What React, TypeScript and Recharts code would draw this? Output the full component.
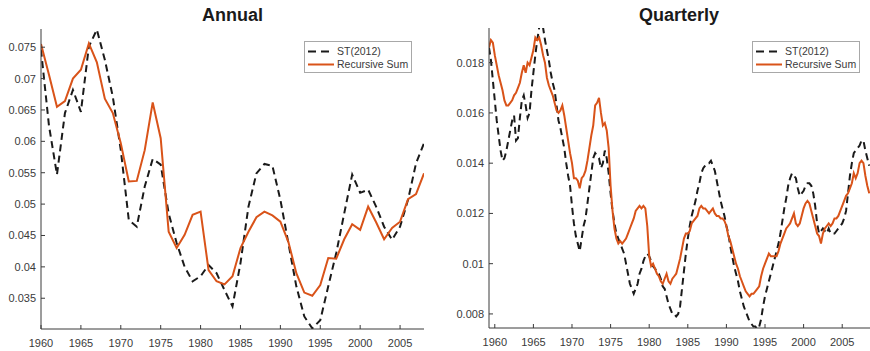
import { LineChart, Line, XAxis, YAxis } from "recharts";

const FONT = '"Liberation Sans", Arial, Helvetica, sans-serif';
const ST_COLOR = "#1a1a1a";
const RS_COLOR = "#d95319";
const AXIS_COLOR = "#3a3a3a";
const TEXT_COLOR = "#3a3a3a";

// ---- annual (1960..2008) ----
const ANNUAL_START = 1960;
const ANNUAL_ST = [
  0.0746, 0.0625, 0.0547, 0.0645, 0.0682, 0.0647, 0.0751, 0.0778, 0.0730, 0.0671,
  0.0586, 0.0475, 0.0464, 0.0528, 0.0572, 0.0563, 0.0485, 0.0438, 0.0400, 0.0377,
  0.0385, 0.0403, 0.0390, 0.0363, 0.0337, 0.0406, 0.0496, 0.0549, 0.0564, 0.0561,
  0.0507, 0.0438, 0.0369, 0.0321, 0.0302, 0.0315, 0.0369, 0.0422, 0.0485, 0.0547,
  0.0518, 0.0523, 0.0496, 0.0464, 0.0443, 0.0464, 0.0507, 0.0565, 0.0597,
];
const ANNUAL_RS = [
  0.0755, 0.0706, 0.0655, 0.0664, 0.0700, 0.0714, 0.0756, 0.0726, 0.0668, 0.0645,
  0.0597, 0.0536, 0.0537, 0.0586, 0.0662, 0.0605, 0.0456, 0.0430, 0.0451, 0.0483,
  0.0488, 0.0395, 0.0377, 0.0372, 0.0385, 0.0430, 0.0456, 0.0479, 0.0488, 0.0482,
  0.0472, 0.0440, 0.0390, 0.0359, 0.0354, 0.0371, 0.0414, 0.0413, 0.0444, 0.0468,
  0.0459, 0.0496, 0.0471, 0.0444, 0.0462, 0.0472, 0.0508, 0.0516, 0.0549,
];
const YEAR_TICKS = [1960, 1965, 1970, 1975, 1980, 1985, 1990, 1995, 2000, 2005];
const ANNUAL_Y_TICKS = [0.035, 0.04, 0.045, 0.05, 0.055, 0.06, 0.065, 0.07, 0.075];

// ---- quarterly (1959Q2..2008Q3), one row per year ----
const QUARTER_START = 1959.25;
const QUARTERLY_ST = [
  0.0186, 0.0181, 0.0173,
  0.0165, 0.0157, 0.0151, 0.0145,
  0.0141, 0.0142, 0.0145, 0.0149,
  0.0153, 0.0157, 0.0159, 0.0149,
  0.0150, 0.0158, 0.0165, 0.0167,
  0.0163, 0.0158, 0.0160, 0.0169,
  0.0176, 0.0183, 0.0189, 0.0194,
  0.0196, 0.0194, 0.0189, 0.0185,
  0.0181, 0.0176, 0.0172, 0.0169,
  0.0163, 0.0157, 0.0154, 0.0150,
  0.0146, 0.0140, 0.0135, 0.0131,
  0.0123, 0.0116, 0.0111, 0.0108,
  0.0105, 0.0110, 0.0115, 0.0118,
  0.0124, 0.0130, 0.0136, 0.0142,
  0.0144, 0.0143, 0.0142, 0.0138,
  0.0140, 0.0145, 0.0142, 0.0136,
  0.0128, 0.0121, 0.0116, 0.0112,
  0.0110, 0.0108, 0.0106, 0.0104,
  0.0100, 0.0096, 0.0092, 0.0090,
  0.0088, 0.0090, 0.0092, 0.0096,
  0.0098, 0.0101, 0.0103, 0.0104,
  0.0103, 0.0101, 0.0099, 0.0098,
  0.0097, 0.0096, 0.0094, 0.0091,
  0.0090, 0.0087, 0.0084, 0.0082,
  0.0080, 0.0080, 0.0079, 0.0080,
  0.0083, 0.0090, 0.0097, 0.0104,
  0.0110, 0.0115, 0.0119, 0.0122,
  0.0125, 0.0129, 0.0132, 0.0136,
  0.0138, 0.0139, 0.0140, 0.0140,
  0.0141, 0.0139, 0.0137, 0.0133,
  0.0129, 0.0125, 0.0122, 0.0119,
  0.0115, 0.0112, 0.0107, 0.0103,
  0.0099, 0.0096, 0.0093, 0.0089,
  0.0086, 0.0083, 0.0081, 0.0079,
  0.0077, 0.0076, 0.0075, 0.0075,
  0.0074, 0.0075, 0.0078, 0.0083,
  0.0087, 0.0090, 0.0093, 0.0096,
  0.0099, 0.0102, 0.0105, 0.0108,
  0.0112, 0.0117, 0.0122, 0.0126,
  0.0131, 0.0134, 0.0136, 0.0135,
  0.0134, 0.0130, 0.0127, 0.0128,
  0.0129, 0.0131, 0.0132, 0.0132,
  0.0131, 0.0128, 0.0123, 0.0116,
  0.0112, 0.0113, 0.0114, 0.0113,
  0.0112, 0.0114, 0.0112, 0.0112,
  0.0112, 0.0113, 0.0114, 0.0115,
  0.0116, 0.0118, 0.0121, 0.0128,
  0.0135, 0.0140, 0.0144, 0.0145,
  0.0146, 0.0147, 0.0149, 0.0149,
  0.0145, 0.0142, 0.0139,
];
const QUARTERLY_RS = [
  0.0186, 0.0189, 0.0188,
  0.0183, 0.0179, 0.0175, 0.0172,
  0.0169, 0.0165, 0.0163, 0.0163,
  0.0164, 0.0165, 0.0167, 0.0168,
  0.0170, 0.0172, 0.0176, 0.0179,
  0.0176, 0.0180, 0.0179, 0.0182,
  0.0185, 0.0190, 0.0189, 0.0190,
  0.0187, 0.0183, 0.0180, 0.0174,
  0.0171, 0.0169, 0.0167, 0.0164,
  0.0161, 0.0160, 0.0161, 0.0163,
  0.0159, 0.0154, 0.0149, 0.0144,
  0.0140, 0.0134, 0.0134, 0.0133,
  0.0130, 0.0134, 0.0135, 0.0137,
  0.0141, 0.0146, 0.0151, 0.0155,
  0.0163, 0.0164, 0.0166, 0.0160,
  0.0155, 0.0156, 0.0153, 0.0146,
  0.0131, 0.0121, 0.0114, 0.0110,
  0.0108, 0.0109, 0.0108, 0.0109,
  0.0110, 0.0112, 0.0114, 0.0116,
  0.0118, 0.0121, 0.0122, 0.0123,
  0.0122, 0.0123, 0.0122, 0.0115,
  0.0103, 0.0099, 0.0100, 0.0098,
  0.0096, 0.0095, 0.0093, 0.0092,
  0.0094, 0.0096, 0.0093, 0.0092,
  0.0094, 0.0095, 0.0096, 0.0099,
  0.0102, 0.0106, 0.0110, 0.0112,
  0.0112, 0.0113, 0.0116, 0.0117,
  0.0118, 0.0119, 0.0122, 0.0123,
  0.0122, 0.0122, 0.0121, 0.0120,
  0.0121, 0.0122, 0.0120, 0.0119,
  0.0119, 0.0118, 0.0118, 0.0117,
  0.0115, 0.0111, 0.0109, 0.0106,
  0.0103, 0.0100, 0.0098, 0.0095,
  0.0093, 0.0091, 0.0089, 0.0088,
  0.0087, 0.0088, 0.0088, 0.0089,
  0.0090, 0.0091, 0.0095, 0.0098,
  0.0100, 0.0102, 0.0104, 0.0103,
  0.0103, 0.0103, 0.0103, 0.0105,
  0.0108, 0.0110, 0.0112, 0.0114,
  0.0115, 0.0116, 0.0118, 0.0120,
  0.0116, 0.0115, 0.0116, 0.0119,
  0.0122, 0.0124, 0.0125, 0.0124,
  0.0121, 0.0118, 0.0115, 0.0112,
  0.0111, 0.0108, 0.0112, 0.0114,
  0.0115, 0.0116, 0.0115, 0.0116,
  0.0118, 0.0118, 0.0119, 0.0121,
  0.0123, 0.0125, 0.0127, 0.0128,
  0.0130, 0.0132, 0.0136, 0.0134,
  0.0136, 0.0140, 0.0141, 0.0140,
  0.0135, 0.0131, 0.0128,
];
const QUARTERLY_Y_TICKS = [0.008, 0.01, 0.012, 0.014, 0.016, 0.018];

const annualData = ANNUAL_ST.map((v, i) => ({ t: ANNUAL_START + i, st: v, rs: ANNUAL_RS[i] }));
const quarterlyData = QUARTERLY_ST.map((v, i) => ({ t: QUARTER_START + i / 4, st: v, rs: QUARTERLY_RS[i] }));

const label = (v: number) => String(v);

const BottomTick = (p: any) => (
  <g>
    <line x1={p.x} x2={p.x} y1={p.y} y2={p.y - 4} stroke={AXIS_COLOR} />
    <text x={p.x} y={p.y + 18} textAnchor="middle" fontSize={11} fill={TEXT_COLOR} fontFamily={FONT}>
      {p.payload.value}
    </text>
  </g>
);
const TopTick = (p: any) => <line x1={p.x} x2={p.x} y1={p.y} y2={p.y + 4} stroke={AXIS_COLOR} />;
const LeftTick = (p: any) => (
  <g>
    <line x1={p.x} x2={p.x + 4} y1={p.y} y2={p.y} stroke={AXIS_COLOR} />
    <text x={p.x - 5} y={p.y + 4} textAnchor="end" fontSize={11} fill={TEXT_COLOR} fontFamily={FONT}>
      {label(p.payload.value)}
    </text>
  </g>
);
const RightTick = (p: any) => <line x1={p.x} x2={p.x - 4} y1={p.y} y2={p.y} stroke={AXIS_COLOR} />;

function LegendBox({ left, top }: { left: number; top: number }) {
  return (
    <svg width={108} height={32} style={{ position: "absolute", left, top }}>
      <rect x={0.5} y={0.5} width={107} height={31} fill="#fff" stroke="#a8a8a8" />
      <line x1={4} x2={30} y1={10.5} y2={10.5} stroke={ST_COLOR} strokeWidth={2} strokeDasharray="8 5" />
      <text x={33} y={14} fontSize={10.5} fill={TEXT_COLOR} fontFamily={FONT}>ST(2012)</text>
      <line x1={4} x2={30} y1={23.5} y2={23.5} stroke={RS_COLOR} strokeWidth={2} />
      <text x={33} y={27} fontSize={10.5} fill={TEXT_COLOR} fontFamily={FONT}>Recursive Sum</text>
    </svg>
  );
}

type PanelProps = {
  title: string;
  data: { t: number; st: number; rs: number }[];
  left: number;
  width: number;
  top: number;
  right: number;
  yWidth: number;
  xHeight: number;
  xDomain: [number, number];
  yDomain: [number, number];
  yTicks: number[];
  titleX: number;
  legendLeft: number;
  legendTop: number;
};

function Panel(p: PanelProps) {
  return (
    <div style={{ position: "absolute", left: p.left, top: 0, width: p.width, height: 351 }}>
      <div
        style={{
          position: "absolute", left: p.titleX - 100, top: 4, width: 200, textAlign: "center",
          fontFamily: FONT, fontWeight: "bold", fontSize: 18, color: "#1a1a1a", lineHeight: "22px",
        }}
      >
        {p.title}
      </div>
      <LineChart width={p.width} height={351} data={p.data} margin={{ top: p.top, right: p.right, bottom: 0, left: 0 }}>
        <XAxis
          xAxisId="b" dataKey="t" type="number" domain={p.xDomain} ticks={YEAR_TICKS} allowDataOverflow
          height={p.xHeight} tickSize={0} tickMargin={0} tickLine={false} tick={BottomTick}
          axisLine={{ stroke: AXIS_COLOR }} interval={0}
        />
        <XAxis
          xAxisId="t" orientation="top" dataKey="t" type="number" domain={p.xDomain} ticks={YEAR_TICKS} allowDataOverflow
          height={0} tickSize={0} tickMargin={0} tickLine={false} tick={TopTick}
          axisLine={{ stroke: AXIS_COLOR }} interval={0}
        />
        <YAxis
          yAxisId="l" type="number" domain={p.yDomain} ticks={p.yTicks} allowDataOverflow
          width={p.yWidth} tickSize={0} tickMargin={0} tickLine={false} tick={LeftTick}
          axisLine={{ stroke: AXIS_COLOR }} interval={0}
        />
        <YAxis
          yAxisId="r" orientation="right" type="number" domain={p.yDomain} ticks={p.yTicks} allowDataOverflow
          width={0} tickSize={0} tickMargin={0} tickLine={false} tick={RightTick}
          axisLine={{ stroke: AXIS_COLOR }} interval={0}
        />
        <Line
          xAxisId="b" yAxisId="l" type="linear" dataKey="st" stroke={ST_COLOR} strokeWidth={2}
          strokeDasharray="7 4.5" dot={false} activeDot={false} isAnimationActive={false}
        />
        <Line
          xAxisId="b" yAxisId="l" type="linear" dataKey="rs" stroke={RS_COLOR} strokeWidth={2}
          dot={false} activeDot={false} isAnimationActive={false}
        />
      </LineChart>
      <LegendBox left={p.legendLeft} top={p.legendTop} />
    </div>
  );
}

export default function App() {
  return (
    <div style={{ position: "absolute", left: 0, top: 0, width: 870, height: 351, background: "#fff", overflow: "hidden" }}>
      <Panel
        title="Annual" data={annualData} left={0} width={430} top={29} right={6} yWidth={41} xHeight={22}
        xDomain={[1960, 2008]} yDomain={[0.0301, 0.0779]} yTicks={ANNUAL_Y_TICKS}
        titleX={232.5} legendLeft={304} legendTop={41}
      />
      <Panel
        title="Quarterly" data={quarterlyData} left={435} width={435} top={28} right={0} yWidth={54} xHeight={23}
        xDomain={[1959.25, 2008.6]} yDomain={[0.00744, 0.01938]} yTicks={QUARTERLY_Y_TICKS}
        titleX={244} legendLeft={317} legendTop={41}
      />
    </div>
  );
}
